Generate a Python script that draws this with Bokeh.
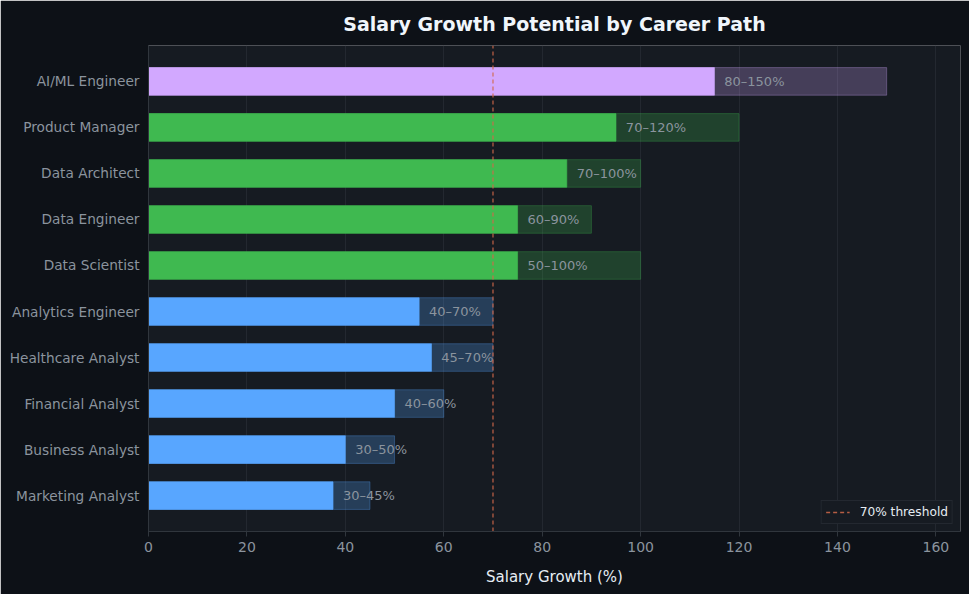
from bokeh.plotting import figure
from bokeh.models import ColumnDataSource, Legend, LegendItem, FixedTicker
from bokeh.embed import file_html
from bokeh.resources import INLINE
from bokeh.core.properties import value

careers = ["Marketing Analyst", "Business Analyst", "Financial Analyst", "Healthcare Analyst",
           "Analytics Engineer", "Data Scientist", "Data Engineer", "Data Architect",
           "Product Manager", "AI/ML Engineer"]
low = [30, 30, 40, 45, 40, 50, 60, 70, 70, 80]
high = [45, 50, 60, 70, 70, 100, 90, 100, 120, 150]
group = ["analyst", "analyst", "analyst", "analyst", "analyst", "data", "data", "data", "data", "ai"]
threshold = 70

palette = {"analyst": "#58a6ff", "data": "#3fb950", "ai": "#d2a8ff"}
FONT = "DejaVu Sans"

ys = list(range(len(careers)))
mid = [(a + b) / 2 for a, b in zip(low, high)]
colors = [palette[g] for g in group]
labels = [f"{a}\u2013{b}%" for a, b in zip(low, high)]

src = ColumnDataSource(dict(y=ys, mid=mid, high=high, color=colors, label=labels,
                            lx=[m + 2 for m in mid]))

p = figure(width=969, height=594, output_backend="svg", toolbar_location=None,
           x_range=(0, 165), y_range=(-0.78, 9.78),
           title="Salary Growth Potential by Career Path",
           min_border_left=148, min_border_right=9, min_border_top=45, min_border_bottom=63)

p.background_fill_color = "#161b22"
p.border_fill_color = "#0d1117"
p.outline_line_color = None
p.outline_line_alpha = 0

p.title.text_color = "#f0f6fc"
p.title.text_font = FONT
p.title.text_font_size = "19px"
p.title.text_font_style = "bold"
p.title.align = "center"
p.title.standoff = 21

p.hbar(y="y", left=0, right="high", height=0.6, source=src, fill_color="color",
       fill_alpha=0.25, line_color="color", line_alpha=0.3, line_width=1)
p.hbar(y="y", left=0, right="mid", height=0.6, source=src, fill_color="color",
       line_color="color", line_alpha=0.6, line_width=1)
p.text(x="lx", y="y", text="label", source=src, text_color="#8b949e",
       text_font=value(FONT), text_font_size="13px", text_baseline="middle", text_align="left")

thr = p.segment(x0=[threshold], x1=[threshold], y0=[-0.78], y1=[9.78],
                line_color="#d1694a", line_dash="4 3", line_width=1.3, line_alpha=0.85)

legend = Legend(items=[LegendItem(label="70% threshold", renderers=[thr])],
                location="bottom_right", background_fill_color="#161b22",
                background_fill_alpha=1, border_line_color="#30363d",
                label_text_color="#e6edf3", label_text_font=FONT, label_text_font_size="12.2px",
                glyph_width=24, glyph_height=14, label_height=14, padding=4, margin=7,
                label_standoff=10, spacing=0)
p.add_layout(legend)

p.xaxis.ticker = FixedTicker(ticks=[0, 20, 40, 60, 80, 100, 120, 140, 160])
p.xaxis.axis_label = "Salary Growth (%)"
p.xaxis.axis_label_text_color = "#e6edf3"
p.xaxis.axis_label_text_font = FONT
p.xaxis.axis_label_text_font_size = "15px"
p.xaxis.axis_label_text_font_style = "normal"
p.xaxis.axis_label_standoff = 13

p.yaxis.ticker = FixedTicker(ticks=ys)
p.yaxis.major_label_overrides = {i: c for i, c in enumerate(careers)}
p.yaxis.major_label_standoff = 9

for ax in (p.xaxis, p.yaxis):
    ax.axis_line_color = "#30363d"
    ax.major_tick_line_color = "#30363d"
    ax.minor_tick_line_color = None
    ax.major_label_text_color = "#8b949e"
    ax.major_label_text_font = FONT
    ax.major_label_text_font_size = "14px"
p.yaxis.major_label_text_font_size = "13.7px"
p.xaxis.major_tick_out = 5
p.xaxis.major_tick_in = 0
p.yaxis.major_tick_out = 0
p.yaxis.major_tick_in = 0

p.xgrid.grid_line_color = "#30363d"
p.xgrid.grid_line_alpha = 0.5
p.ygrid.grid_line_color = None

open("out.html", "w").write(file_html(p, INLINE))
